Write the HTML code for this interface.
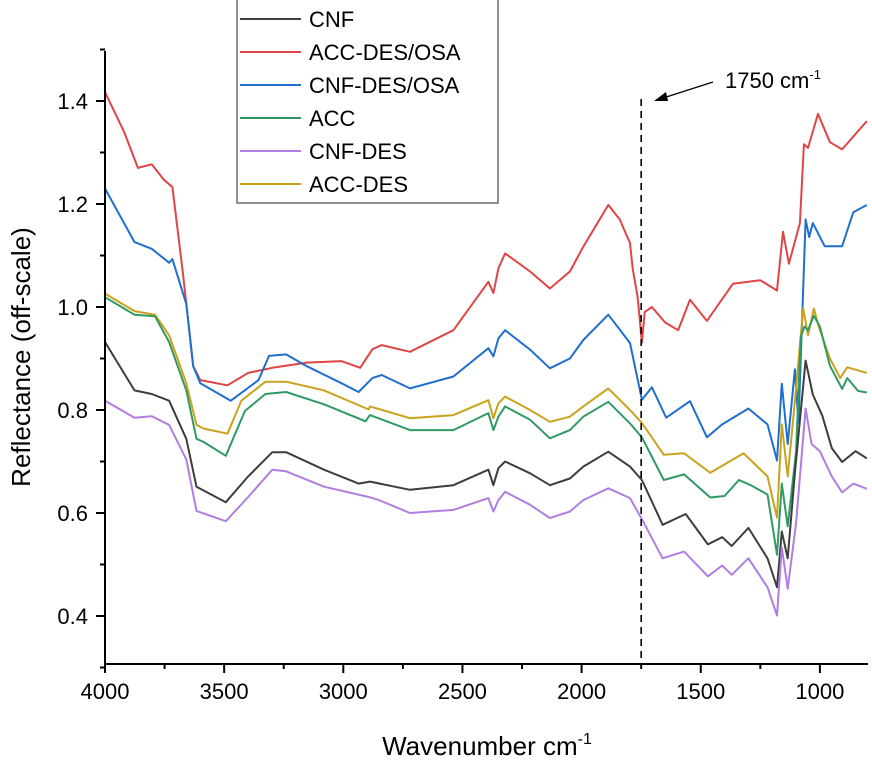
<!DOCTYPE html>
<html><head><meta charset="utf-8">
<style>
html,body{margin:0;padding:0;background:#fff;}
svg{display:block;font-family:"Liberation Sans",Arial,sans-serif;}
</style></head>
<body>
<svg id="chart" width="872" height="765" viewBox="0 0 872 765" xmlns="http://www.w3.org/2000/svg">
<g id="series"></g>
<g id="axes"></g>
<line id="mk" stroke="#000" stroke-width="1.6" stroke-dasharray="7,5"/>
<g>
<line x1="713" y1="82" x2="660" y2="99" stroke="#000" stroke-width="1.3"/>
<polygon points="654,101 666,92 668,101" fill="#000"/>
<text x="725" y="88" font-size="22">1750 cm<tspan font-size="13" dy="-9">-1</tspan></text>
</g>
<g id="legend">
<rect x="237" y="-1" width="261" height="204" fill="#fff" stroke="#555" stroke-width="1.3"/>
</g>
<text transform="translate(30,357) rotate(-90)" text-anchor="middle" font-size="26">Reflectance (off-scale)</text>
<text x="487" y="755" text-anchor="middle" font-size="26">Wavenumber cm<tspan font-size="16" dy="-11">-1</tspan></text>
</svg>
<script>
const xTicks = [4000,3500,3000,2500,2000,1500,1000];
const yTicks = [0.4,0.6,0.8,1.0,1.2,1.4];
const seriesNames = ["CNF","ACC-DES/OSA","CNF-DES/OSA","ACC","CNF-DES","ACC-DES"];
const markerWavenumber = 1750;

const cnfW = [4000,3876,3804,3731,3659,3616,3493,3399,3298,3240,3081,2936,2888,2720,2538,2391,2370,2349,2321,2216,2133,2049,1993,1888,1797,1747,1660,1563,1470,1410,1370,1300,1220,1180,1160,1135,1105,1060,1030,990,950,907,850,803];
const cnfV = [0.932,0.838,0.831,0.818,0.744,0.651,0.621,0.671,0.718,0.718,0.684,0.657,0.661,0.645,0.654,0.684,0.654,0.687,0.7,0.677,0.654,0.667,0.69,0.719,0.69,0.664,0.577,0.598,0.539,0.553,0.536,0.571,0.512,0.456,0.564,0.512,0.678,0.896,0.83,0.789,0.726,0.699,0.72,0.706];

const accDesOsaW = [4000,3920,3862,3804,3753,3717,3673,3630,3600,3486,3399,3298,3153,3008,2929,2878,2839,2720,2538,2391,2370,2349,2321,2216,2133,2049,1993,1888,1840,1797,1785,1765,1747,1735,1705,1650,1595,1545,1474,1365,1251,1180,1155,1130,1084,1067,1050,1008,958,907,803];
const accDesOsaV = [1.417,1.34,1.27,1.277,1.247,1.233,1.066,0.885,0.858,0.848,0.872,0.882,0.892,0.895,0.882,0.918,0.926,0.913,0.955,1.049,1.027,1.075,1.104,1.069,1.036,1.069,1.117,1.198,1.17,1.124,1.073,1.02,0.931,0.99,1.0,0.97,0.955,1.014,0.973,1.045,1.052,1.032,1.146,1.084,1.163,1.316,1.309,1.375,1.32,1.306,1.361];

const cnfDesOsaW = [4000,3876,3804,3731,3717,3659,3630,3600,3472,3356,3312,3240,3153,3008,2936,2878,2839,2720,2538,2391,2370,2349,2321,2216,2133,2049,1993,1888,1797,1747,1705,1645,1545,1474,1410,1300,1220,1180,1160,1135,1105,1090,1060,1045,1030,980,907,860,803];
const cnfDesOsaV = [1.23,1.126,1.113,1.086,1.093,1.006,0.885,0.852,0.818,0.858,0.905,0.908,0.885,0.852,0.835,0.862,0.868,0.842,0.865,0.92,0.904,0.939,0.955,0.917,0.881,0.9,0.936,0.985,0.93,0.82,0.844,0.785,0.817,0.747,0.772,0.803,0.772,0.702,0.851,0.734,0.879,0.775,1.17,1.136,1.163,1.118,1.118,1.184,1.198];

const accW = [4000,3876,3790,3731,3659,3616,3587,3493,3413,3327,3240,3081,2907,2888,2720,2538,2391,2370,2349,2321,2216,2133,2049,1993,1888,1797,1747,1655,1570,1460,1400,1340,1290,1220,1180,1160,1135,1100,1080,1065,1050,1025,1000,958,907,885,840,803];
const accV = [1.019,0.985,0.982,0.932,0.838,0.744,0.738,0.711,0.798,0.831,0.835,0.811,0.778,0.79,0.761,0.761,0.794,0.761,0.787,0.807,0.781,0.745,0.761,0.787,0.816,0.774,0.747,0.664,0.675,0.63,0.633,0.664,0.654,0.636,0.519,0.657,0.574,0.72,0.942,0.962,0.955,0.983,0.962,0.886,0.841,0.862,0.837,0.834];

const cnfDesW = [4000,3876,3804,3731,3659,3616,3493,3399,3298,3240,3081,2893,2850,2720,2538,2391,2370,2349,2321,2216,2133,2049,1993,1888,1797,1747,1660,1570,1470,1410,1370,1300,1220,1180,1160,1135,1100,1060,1035,1000,950,907,860,803];
const cnfDesV = [0.818,0.785,0.788,0.771,0.704,0.604,0.584,0.631,0.684,0.681,0.651,0.631,0.625,0.6,0.606,0.629,0.603,0.625,0.641,0.616,0.59,0.603,0.625,0.648,0.629,0.588,0.512,0.525,0.477,0.498,0.48,0.512,0.456,0.401,0.533,0.453,0.581,0.803,0.734,0.72,0.671,0.64,0.657,0.647];

const accDesW = [4000,3876,3790,3731,3659,3616,3587,3486,3428,3327,3240,3081,2893,2888,2720,2538,2391,2370,2349,2321,2216,2133,2049,1993,1888,1797,1747,1655,1570,1460,1320,1220,1180,1160,1135,1105,1070,1050,1025,1005,958,915,885,803];
const accDesV = [1.026,0.992,0.985,0.945,0.852,0.771,0.764,0.754,0.818,0.855,0.855,0.838,0.801,0.807,0.784,0.79,0.819,0.784,0.813,0.826,0.8,0.777,0.787,0.807,0.842,0.8,0.775,0.713,0.716,0.678,0.716,0.671,0.591,0.772,0.671,0.817,0.997,0.945,0.997,0.962,0.9,0.862,0.883,0.872];

const NS = "http://www.w3.org/2000/svg";
const L = 105, R = 868, T = 51, B = 664;
function xs(w){ return L + (4000 - w) * 0.2383; }
function ys(v){ return 101 + (1.4 - v) * 515; }
function mk(tag, attrs, parent){ const e = document.createElementNS(NS, tag); for (const k in attrs) e.setAttribute(k, attrs[k]); parent.appendChild(e); return e; }

const seriesG = document.getElementById("series");
const colors = ["#3d3d3d","#e04545","#1f6fcf","#2f9a63","#b07ee0","#caa21c"];
const allW = [cnfW,accDesOsaW,cnfDesOsaW,accW,cnfDesW,accDesW];
const allV = [cnfV,accDesOsaV,cnfDesOsaV,accV,cnfDesV,accDesV];
const ids = ["cnf","acc-des-osa","cnf-des-osa","acc","cnf-des","acc-des"];
const drawOrder = [1,2,5,3,0,4];
drawOrder.forEach(i => {
  const d = allW[i].map((w, j) => (j ? "L" : "M") + xs(w).toFixed(1) + "," + ys(allV[i][j]).toFixed(1)).join(" ");
  const p = mk("path", {d: d, fill: "none", stroke: colors[i], "stroke-width": 2, "stroke-linejoin": "round"}, seriesG);
  
  
});

const ax = document.getElementById("axes");
mk("line", {x1: L, y1: T, x2: L, y2: B + 1, stroke: "#000", "stroke-width": 2}, ax);
mk("line", {x1: L - 1, y1: B, x2: R, y2: B, stroke: "#000", "stroke-width": 2}, ax);
for (let w = 4000; w >= 800; w -= 250) {
  const major = xTicks.includes(w);
  mk("line", {x1: xs(w), y1: B, x2: xs(w), y2: B + (major ? 9 : 5), stroke: "#000", "stroke-width": 2}, ax);
}
xTicks.forEach(w => {
  const t = mk("text", {x: xs(w), y: 699, "text-anchor": "middle", "font-size": 22}, ax);
  t.textContent = String(w);
  
  
});
for (let k = 3; k <= 15; k++) {
  const v = k / 10;
  const major = k % 2 === 0;
  mk("line", {x1: L - (major ? 9 : 5), y1: ys(v), x2: L, y2: ys(v), stroke: "#000", "stroke-width": 2}, ax);
}
yTicks.forEach(v => {
  const t = mk("text", {x: 88, y: ys(v) + 8, "text-anchor": "end", "font-size": 22}, ax);
  t.textContent = v.toFixed(1);
  
  
});

const m = document.getElementById("mk");
m.setAttribute("x1", xs(markerWavenumber)); m.setAttribute("x2", xs(markerWavenumber));
m.setAttribute("y1", 99); m.setAttribute("y2", B);

const lg = document.getElementById("legend");
seriesNames.forEach((n, i) => {
  const y = 19 + i * 33;
  const ln = mk("line", {x1: 240, y1: y, x2: 301, y2: y, stroke: colors[i], "stroke-width": 2}, lg);
  
  
  const t = mk("text", {x: 309, y: y + 8, "font-size": 22}, lg);
  t.textContent = n;
  
  
});
</script>
</body></html>
